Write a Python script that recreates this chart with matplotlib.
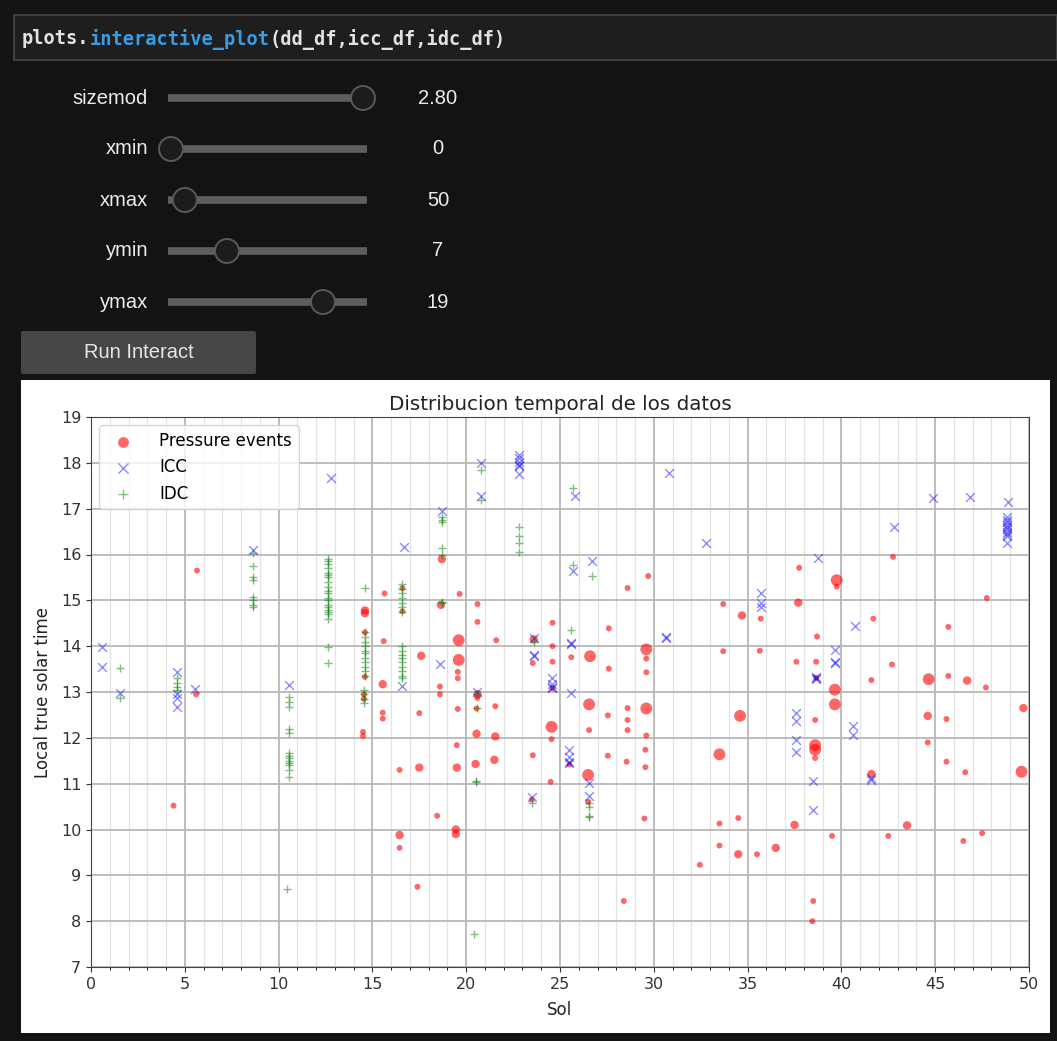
import matplotlib.pyplot as plt
from matplotlib.patches import Circle, Rectangle, FancyBboxPatch
from matplotlib.ticker import MultipleLocator

# widget state
sizemod = 2.80
slider_names = ["sizemod", "xmin", "xmax", "ymin", "ymax"]
slider_values = [2.80, 0, 50, 7, 19]
slider_labels = ["2.80", "0", "50", "7", "19"]
slider_ranges = [(0.0, 2.8), (0, 700), (0, 690), (0, 24), (0, 24)]

# Pressure events: sol, LTST, relative intensity
dd_sol = [4.4, 5.6, 5.65,
          14.6, 14.6, 14.6, 14.6, 14.55, 14.55, 14.5, 14.5,
          15.65, 15.6, 15.55, 15.55, 15.55,
          16.6, 16.6, 16.45, 16.45, 16.45,
          17.6, 17.5, 17.5, 17.4,
          18.45, 18.7, 18.65, 18.6, 18.6,
          19.65, 19.6, 19.6, 19.55, 19.55, 19.55, 19.5, 19.5, 19.45, 19.45,
          20.6, 20.6, 20.6, 20.6, 20.55, 20.55, 20.5,
          21.6, 21.55, 21.55, 21.5,
          23.6, 23.55, 23.55, 23.5,
          24.6, 24.6, 24.6, 24.6, 24.55, 24.55, 24.5,
          25.6, 25.5,
          26.6, 26.55, 26.55, 26.5, 26.5,
          27.6, 27.6, 27.55, 27.55,
          28.6, 28.6, 28.6, 28.6, 28.55, 28.4,
          29.7, 29.6, 29.6, 29.6, 29.6, 29.6, 29.55, 29.55, 29.5,
          32.45,
          33.7, 33.7, 33.5, 33.5, 33.5,
          34.7, 34.6, 34.5, 34.5,
          35.7, 35.65, 35.5,
          36.5,
          37.75, 37.7, 37.6, 37.5,
          38.7, 38.65, 38.65, 38.6, 38.6, 38.6, 38.6, 38.5, 38.45,
          39.75, 39.75, 39.65, 39.65, 39.5,
          41.7, 41.6, 41.6,
          42.75, 42.7, 42.5,
          43.5,
          44.65, 44.6, 44.6,
          45.7, 45.7, 45.6, 45.6,
          46.7, 46.6, 46.5,
          47.7, 47.75, 47.5,
          49.7, 49.6]
dd_ltst = [10.52, 12.95, 15.65,
           14.78, 14.72, 14.3, 13.33, 12.95, 12.85, 12.13, 12.04,
           15.15, 14.11, 13.17, 12.55, 12.42,
           15.27, 14.76, 11.3, 9.88, 9.6,
           13.79, 12.54, 11.35, 8.75,
           10.3, 15.9, 14.9, 13.12, 12.95,
           15.14, 14.13, 13.7, 13.44, 13.3, 12.63, 11.84, 11.35, 10.0, 9.9,
           14.92, 14.53, 12.95, 12.87, 12.64, 12.09, 11.43,
           14.13, 12.69, 12.03, 11.52,
           14.15, 13.63, 11.62, 10.65,
           14.51, 14.0, 13.66, 13.08, 12.24, 11.97, 11.04,
           13.76, 11.42,
           13.78, 12.73, 12.17, 11.19, 10.6,
           14.39, 13.51, 12.49, 11.61,
           15.27, 12.65, 12.39, 12.17, 11.48, 8.44,
           15.53, 13.93, 13.73, 13.43, 12.64, 12.05, 11.74, 11.36, 10.24,
           9.23,
           14.92, 13.89, 11.64, 10.13, 9.65,
           14.67, 12.48, 10.25, 9.46,
           14.6, 13.9, 9.46,
           9.6,
           15.71, 14.95, 13.66, 10.1,
           14.21, 13.66, 13.31, 12.39, 11.84, 11.74, 11.56, 8.44, 8.0,
           15.44, 15.3, 13.05, 12.73, 9.86,
           14.6, 13.26, 11.21,
           15.95, 13.6, 9.86,
           10.09,
           13.28, 12.48, 11.9,
           14.42, 13.35, 12.41, 11.48,
           13.25, 11.25, 9.75,
           13.1, 15.05, 9.92,
           12.65, 11.26]
dd_intensity = [1, 1, 1,
                2, 2, 1, 1, 1, 1, 1, 1,
                1, 1, 2, 1, 1,
                1, 1, 1, 2, 1,
                2, 1, 2, 1,
                1, 2, 2, 1, 1,
                1, 4, 4, 1, 1, 1, 1, 2, 2, 2,
                1, 1, 2, 1, 1, 2, 2,
                1, 1, 2, 2,
                2, 1, 1, 1,
                1, 1, 1, 1, 4, 1, 1,
                1, 1,
                4, 4, 1, 4, 1,
                1, 1, 1, 1,
                1, 1, 1, 1, 1, 1,
                1, 4, 1, 1, 4, 1, 1, 1, 1,
                1,
                1, 1, 4, 1, 1,
                2, 4, 1, 2,
                1, 1, 1,
                2,
                1, 2, 1, 2,
                1, 1, 1, 1, 4, 4, 1, 1, 1,
                4, 1, 4, 4, 1,
                1, 1, 2,
                1, 1, 1,
                2,
                4, 2, 1,
                1, 1, 1, 1,
                2, 1, 1,
                1, 1, 1,
                2, 4]

# ICC detections
icc_sol = [0.6, 0.6, 1.55, 4.58, 4.58, 4.6, 4.58, 5.55, 8.65, 10.55, 12.8,
           16.7, 16.6, 18.7, 18.6, 20.8, 20.8, 20.55,
           22.8, 22.8, 22.8, 22.8, 22.8, 22.8,
           23.6, 23.6, 23.6, 23.5,
           24.6, 24.6, 24.6, 24.6,
           25.8, 25.7, 26.7, 25.6, 25.6, 25.6, 25.5, 25.5, 25.5, 25.5, 26.55, 26.55,
           30.8, 30.65, 30.65, 32.8, 35.7, 35.7, 35.7,
           37.6, 37.6, 37.6, 37.6, 38.5, 38.5, 38.75, 38.65, 38.65, 38.65,
           39.65, 39.65, 39.65, 40.7, 40.6, 40.6, 41.6, 41.6,
           42.8, 44.9, 46.85, 48.9,
           48.85, 48.85, 48.85, 48.85, 48.85, 48.85, 48.85, 48.85, 48.85, 48.85]
icc_ltst = [13.98, 13.55, 12.98, 13.44, 12.95, 12.88, 12.67, 13.06, 16.1, 13.15, 17.67,
            16.17, 13.13, 16.95, 13.61, 18.0, 17.28, 13.0,
            18.17, 18.1, 18.02, 17.96, 17.92, 17.76,
            14.18, 13.8, 13.78, 10.7,
            13.3, 13.17, 13.1, 13.08,
            17.28, 15.64, 15.86, 14.08, 14.05, 12.97, 11.73, 11.58, 11.47, 11.45, 11.01, 10.73,
            17.78, 14.21, 14.18, 16.25, 15.16, 14.94, 14.86,
            12.54, 12.37, 11.95, 11.69, 11.06, 10.43, 15.92, 13.32, 13.3, 13.28,
            13.92, 13.65, 13.63, 14.44, 12.26, 12.06, 11.12, 11.08,
            16.6, 17.23, 17.26, 17.15,
            16.82, 16.76, 16.7, 16.65, 16.6, 16.55, 16.5, 16.45, 16.4, 16.26]

# IDC detections
idc_sol = [1.55, 1.55, 4.58, 4.58, 4.58, 4.58,
           8.65, 8.65, 8.65, 8.65, 8.65, 8.65, 8.65, 8.65,
           10.55, 10.55, 10.55, 10.55, 10.55, 10.55, 10.55, 10.55, 10.55, 10.55,
           10.55, 10.55, 10.55, 10.45,
           12.65, 12.65, 12.65, 12.65, 12.65, 12.65, 12.65, 12.65, 12.65, 12.65,
           12.65, 12.65, 12.65, 12.65, 12.65, 12.65, 12.65, 12.65, 12.65, 12.65, 12.65,
           14.6, 14.6, 14.6, 14.6, 14.6, 14.6, 14.6, 14.6, 14.6, 14.6, 14.6, 14.6,
           14.55, 14.55, 14.55, 14.55,
           16.6, 16.6, 16.6, 16.6, 16.6, 16.6, 16.6, 16.6,
           16.6, 16.6, 16.6, 16.6, 16.6, 16.6, 16.6, 16.6,
           18.7, 18.7, 18.7, 18.7, 18.7, 18.7, 18.7,
           20.8, 20.8, 20.6, 20.6, 20.5, 20.5, 20.4,
           22.8, 22.8, 22.8, 22.8,
           23.6, 23.5,
           25.7, 25.7, 26.7, 25.6,
           26.55, 26.55, 26.55, 26.55]
idc_ltst = [13.53, 12.87, 13.3, 13.2, 13.1, 13.05,
            16.03, 15.75, 15.5, 15.45, 15.07, 15.0, 14.9, 14.85,
            12.9, 12.78, 12.68, 12.2, 12.1, 11.67, 11.6, 11.55, 11.5, 11.45,
            11.4, 11.3, 11.15, 8.7,
            15.9, 15.85, 15.8, 15.7, 15.6, 15.55, 15.5, 15.4, 15.3, 15.2,
            15.15, 15.05, 15.0, 14.9, 14.85, 14.8, 14.75, 14.7, 14.6, 13.98, 13.63,
            15.27, 14.3, 14.2, 14.1, 14.0, 13.9, 13.85, 13.75, 13.65, 13.55, 13.45, 13.35,
            13.05, 12.95, 12.85, 12.75,
            15.35, 15.25, 15.15, 15.05, 14.95, 14.85, 14.75, 14.0,
            13.9, 13.8, 13.75, 13.65, 13.55, 13.45, 13.35, 13.3,
            16.82, 16.75, 16.7, 16.15, 15.98, 14.97, 14.95,
            17.85, 17.19, 12.95, 12.65, 11.05, 11.03, 7.72,
            16.6, 16.4, 16.25, 16.05,
            14.1, 10.58,
            17.45, 15.77, 15.53, 14.35,
            10.58, 10.5, 10.28, 10.3]

W, H = 1057, 1041
BG = "#131313"
ui_font = ["Liberation Sans", "DejaVu Sans"]
ui_size = 14.5

fig = plt.figure(figsize=(W / 100, H / 100), dpi=100, facecolor=BG)

# notebook area drawn in pixel units
ui = fig.add_axes([0, 0, 1, 1], zorder=0)
ui.set_xlim(0, W)
ui.set_ylim(H, 0)
ui.axis("off")

# code cell
ui.add_patch(Rectangle((14, 15), W - 14, 45, facecolor="#1e1e1e",
                       edgecolor="#474747", lw=1.2))
code_parts = [("plots.", "#e2e2e2"), ("interactive_plot", "#3b9ce6"),
              ("(dd_df,icc_df,idc_df)", "#e2e2e2")]
cx = 22
char_w = 11.23
for txt, col in code_parts:
    ui.text(cx, 39, txt, color=col, fontsize=13.4, family="DejaVu Sans Mono",
            va="center", ha="left", fontweight="semibold")
    cx += char_w * len(txt)

# sliders
track_x0, track_x1 = 171, 363
for i, (name, val, lab, (lo, hi)) in enumerate(
        zip(slider_names, slider_values, slider_labels, slider_ranges)):
    yy = 98 + i * 51
    ui.text(148, yy, name, color="#ececec", fontsize=ui_size, family=ui_font,
            ha="right", va="center")
    ui.plot([track_x0 - 3, track_x1 + 4], [yy, yy], color="#5e5e5e", lw=5.5,
            solid_capstyle="butt")
    kx = track_x0 + (val - lo) / (hi - lo) * (track_x1 - track_x0)
    ui.add_patch(Circle((kx, yy), 12, facecolor="#1c1c1c", edgecolor="#5a5a5a",
                        lw=1.4, zorder=3))
    ui.text(438, yy, lab, color="#ececec", fontsize=ui_size, family=ui_font,
            ha="center", va="center")

# button
ui.add_patch(FancyBboxPatch((21, 331), 235, 43, boxstyle="round,pad=0,rounding_size=2",
                            facecolor="#464646", edgecolor="none"))
ui.text(139, 352, "Run Interact", color="#e6e6e6", fontsize=ui_size, family=ui_font,
        ha="center", va="center")

# output area
ui.add_patch(Rectangle((21, 380), 1029, 653, facecolor="white", edgecolor="none"))

# scatter plot
ax = fig.add_axes([91 / W, 1 - 967 / H, 938 / W, 550 / H], zorder=1)
dd_sizes = [sizemod * 6.5 * w for w in dd_intensity]
ax.scatter(dd_sol, dd_ltst, s=dd_sizes, c="red", alpha=0.6, linewidths=0,
           label="Pressure events")
ax.scatter(icc_sol, icc_ltst, s=40, marker="x", c="blue", alpha=0.45,
           linewidths=1.0, label="ICC")
ax.scatter(idc_sol, idc_ltst, s=40, marker="+", c="green", alpha=0.5,
           linewidths=1.0, label="IDC")

ax.set_xlim(0, 50)
ax.set_ylim(7, 19)
ax.xaxis.set_major_locator(MultipleLocator(5))
ax.xaxis.set_minor_locator(MultipleLocator(1))
ax.yaxis.set_major_locator(MultipleLocator(1))
ax.grid(which="major", color="#b8b8b8", lw=1.3)
ax.grid(which="minor", axis="x", color="#e2e2e2", lw=0.9)
ax.set_axisbelow(True)
ax.tick_params(labelsize=11.5, colors="#333333")
for sp in ax.spines.values():
    sp.set_color("#444444")

ax.set_title("Distribucion temporal de los datos", fontsize=14.3, color="#222222", pad=5)
ax.set_xlabel("Sol", fontsize=12, color="#222222", labelpad=7)
ax.set_ylabel("Local true solar time", fontsize=12, color="#222222", labelpad=6)
ax.legend(loc="upper left", fontsize=12, framealpha=0.8, markerscale=1.15,
          handletextpad=1.2)

fig.savefig("out.png", dpi=100, facecolor=BG)
